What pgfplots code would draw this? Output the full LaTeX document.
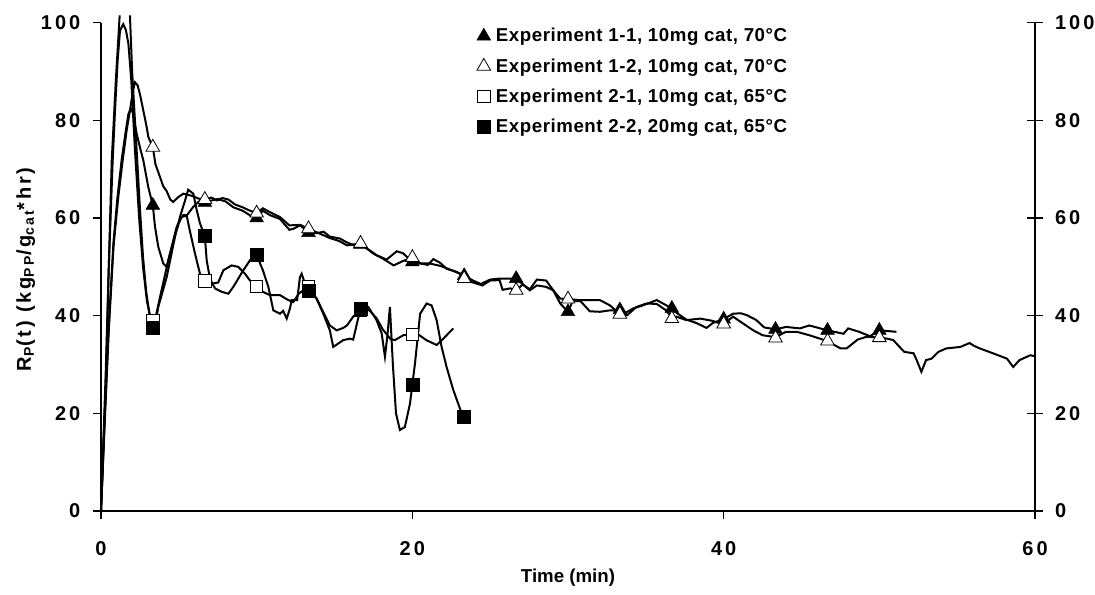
\documentclass[border=0pt]{standalone}
\usepackage{fontspec}
\setmainfont{Liberation Sans}
\usepackage{pgfplots}
\pgfplotsset{compat=1.18}
\begin{document}
\begin{tikzpicture}
\useasboundingbox (-75.75pt,-62.25pt) rectangle (745.5pt,383.25pt);
\pgfplotsset{
  common/.style={at={(0pt,0pt)}, anchor=south west, scale only axis,
    width=700.5pt, height=366.2pt, xmin=0, xmax=60, ymin=0, ymax=100,
    /pgf/number format/assume math mode=true,
    tick label style={font=\fontsize{15}{17}\selectfont\bfseries\addfontfeature{LetterSpace=15}},
    ytick={0,20,40,60,80,100}, minor tick num=0,
    axis line style={line width=1.1pt}, major tick style={line width=1.1pt, black},
  }
}
\begin{axis}[common,
  axis x line*=bottom, axis y line*=left, tick align=outside,
  major tick length=6pt, xtick={0,20,40,60},
  xticklabel style={yshift=-13pt},
  yticklabel style={xshift=-6pt},
  clip=false, unbounded coords=jump,
  xlabel={\bfseries Time (min)},
  ylabel={\fontsize{15}{17}\selectfont\bfseries\addfontfeature{LetterSpace=14}R\textsubscript{P}(t) (kg\textsubscript{PP}/g\textsubscript{cat}*hr)},
  label style={font=\fontsize{14}{16}\selectfont\bfseries},
  xlabel style={at={(axis description cs:0.5,-0.1372)}, anchor=center},
  ylabel style={at={(axis description cs:-0.0805,0.495)}, anchor=center},
  legend style={at={(rel axis cs:0.398,1.0)}, anchor=north west, draw=none, fill=none,
    font=\fontsize{14}{16}\selectfont\bfseries\addfontfeature{LetterSpace=3}, row sep=7pt, column sep=2pt},
  legend cell align=left,
]
% lines
\addplot[black, line width=1.5pt, mark=none, forget plot] coordinates {
(0,0) (0.25,20) (0.5,38) (0.8,55) (1.05,64) (1.33,72) (1.6,78) (1.76,81.3) (1.91,82.4) (2.05,81.5) (2.29,77.3) (2.5,74.5) (2.72,71.8) (3.04,66.3) (3.33,62.6) (3.47,58.2) (3.68,54.1) (4.0,50.7) (4.22,50) (4.54,54.1) (4.86,58.2) (5.18,60.2) (5.5,60.5) (5.93,62.3) (6.36,63.6) (6.67,63.2) (7.1,63.6) (7.5,63.9) (8.0,63.4) (8.5,62.2) (9.1,61.5) (9.6,60.5) (10,60) (10.4,61.5) (10.85,60.6) (11.5,59.8) (12.1,57.6) (12.35,57.8) (12.8,58.5) (13.33,57) (13.85,56.9) (14.3,57.2) (14.7,56.2) (15.35,55.8) (15.8,55) (16.2,54.5) (16.67,54.6) (17.3,53.3) (17.7,52.4) (18.35,51.5) (19.0,53.2) (19.4,52.8) (20.0,51) (20.5,50.7) (21.0,50.4) (21.35,51.6) (21.8,50.8) (22.2,49.6) (22.84,49.0) (23.33,48.2) (23.9,47.2) (24.4,46.5) (25.0,47.4) (25.6,47.6) (26.3,47.6) (26.67,47.6) (27.1,46.4) (27.55,45.4) (28.0,47.4) (28.6,47.2) (29.05,45.2) (29.5,42.5) (30.0,40.8) (30.3,43.0) (30.8,43.0) (31.4,40.9) (32.05,40.8) (32.7,41.1) (33.33,41.0) (33.65,40.5) (34.2,41.5) (34.8,42.1) (35.7,43.2) (36.1,42.5) (36.67,41.5) (36.97,40.6) (37.6,39.2) (38.25,38.5) (38.9,37.5) (39.3,38.5) (40.0,39.3) (40.6,40.4) (41.1,40.5) (41.5,40.1) (42.1,39.1) (42.6,37.6) (43.33,37.2) (44.0,37.7) (44.9,37.4) (45.5,38.0) (46.67,37.0) (47.7,36.3) (48.0,37.4) (48.7,36.7) (49.4,35.8) (50.0,37.0) (51.1,36.7)
};
\addplot[black, line width=1.5pt, mark=none, forget plot] coordinates {
(0,0) (0.25,19) (0.5,37) (0.8,54) (1.1,64) (1.4,72) (1.65,78) (1.86,82) (2.05,86) (2.18,87.8) (2.35,87.2) (2.5,85.4) (2.72,82) (2.93,78.7) (3.04,76.6) (3.33,74.5) (3.5,71) (3.79,68.4) (4.0,66.5) (4.22,65.5) (4.45,63.8) (4.64,63.3) (4.97,64.3) (5.29,65) (5.9,64.5) (6.25,64) (6.67,63.8) (7.1,64.2) (7.45,63.6) (7.8,64.1) (8.18,63.8) (8.6,62.8) (9.1,62.2) (9.5,61.6) (10.0,61) (10.4,62) (10.85,61.2) (11.5,60.2) (12.1,58.5) (12.8,58.6) (13.33,57.8) (13.85,57.1) (14.7,55.9) (15.3,55.3) (15.8,54.4) (16.67,54.8) (17.5,52.7) (18.1,51.7) (18.8,50.3) (19.4,51.2) (20.0,51.9) (20.5,50.7) (21.1,50.7) (21.8,50.2) (22.3,49.6) (23.06,48.6) (23.33,47.6) (23.9,46.8) (24.5,46.2) (25.0,47.2) (25.6,47.3) (25.8,45.3) (26.3,45.6) (26.67,45.2) (27.1,46.4) (27.55,45.2) (28.0,46.2) (28.6,45.9) (29.05,45.2) (29.5,43.5) (30.0,43.4) (30.7,43.2) (31.4,43.2) (32.05,43.2) (32.7,42.1) (33.33,40.3) (33.8,40.1) (34.4,41.8) (35.05,42.5) (35.7,42.4) (36.3,41.1) (36.67,39.6) (36.97,39.8) (37.6,39.1) (38.5,39.4) (39.2,39.0) (40.0,38.3) (40.6,39.8) (41.25,38.4) (41.9,37.0) (42.5,36.0) (43.33,35.6) (44.0,36.7) (44.7,36.7) (45.5,36.0) (46.67,34.8) (47.5,33.3) (47.9,33.3) (48.6,35.1) (49.2,35.7) (50.0,35.5) (50.5,35.3) (50.9,35.0) (51.3,33.6) (51.6,32.6) (52.2,32.3) (52.4,30.9) (52.7,28.5) (53.0,30.9) (53.35,31.2) (53.8,32.6) (54.3,33.3) (55.2,33.6) (55.8,34.4) (56.1,33.8) (56.45,33.3) (57.3,32.3) (58.2,31.2) (58.6,29.5) (59.0,30.9) (59.7,31.9) (60.0,31.7)
};
\addplot[black, line width=1.5pt, mark=none, forget plot] coordinates {
(0,0) (0.3,25) (0.5,50) (0.75,71.8) (0.9,82) (1.07,92.3) (1.22,98.4) (1.43,99.7) (1.6,98.5) (1.76,95.7) (1.95,88) (2.18,74) (2.45,60) (2.7,50) (2.95,43) (3.15,40) (3.33,39.0) (3.5,39.5) (3.79,43.8) (4.32,51.3) (4.8,57) (5.1,59.8) (5.29,60.6) (5.5,60.6) (5.7,57.5) (6.04,52.7) (6.36,48.6) (6.67,47.1) (7.0,46.7) (7.2,46.6) (7.53,46.8) (7.86,49.3) (8.39,50.3) (8.82,50) (9.25,48.6) (9.57,47.2) (10.0,46.0) (10.4,44.9) (10.85,44.2) (11.5,44.2) (12.03,43.2) (12.35,42.8) (12.7,44.5) (13.33,46.0) (13.85,43.5) (14.3,40.6) (14.7,38.0) (15.14,37.0) (15.56,37.5) (15.8,38.0) (16.2,39.8) (16.67,41.2) (17.2,41.2) (17.7,39.5) (18.1,37.2) (18.6,35.2) (18.88,35.0) (19.42,36.0) (20.0,36.2) (20.27,36.4) (20.9,35.0) (21.56,34.0) (21.99,35.3) (22.63,37.4)
};
\addplot[black, line width=1.5pt, mark=none, forget plot] coordinates {
(0,0) (0.3,28) (0.5,50) (0.69,71.8) (0.95,88) (1.2,101.5) (1.5,nan) (1.86,101.5) (2.0,90) (2.29,73.9) (2.5,62) (2.7,52) (2.9,45) (3.15,39.5) (3.33,37.5) (3.5,38.5) (3.68,41.8) (4.22,47.9) (4.75,56.1) (5.07,60.2) (5.4,63.6) (5.6,65.8) (5.93,65.0) (6.15,61.6) (6.36,58.9) (6.67,56.3) (6.79,51.3) (7.0,47.6) (7.32,45.6) (7.75,44.9) (8.18,44.5) (8.5,45.9) (9.14,49.3) (9.6,51.5) (10.0,52.4) (10.4,49.3) (10.75,45.9) (11.07,41.1) (11.5,40.4) (11.7,41.0) (11.93,39.4) (12.14,41.5) (12.25,43.2) (12.6,43.2) (12.78,47.9) (12.89,48.6) (13.1,46.6) (13.33,45.2) (13.85,43.5) (14.28,40.4) (14.7,37.0) (14.92,33.6) (15.56,35.0) (15.99,35.3) (16.2,35.1) (16.67,41.5) (17.17,41.8) (17.7,39.1) (18.03,36.4) (18.24,31.6) (18.4,36) (18.56,41.8) (18.75,30) (18.95,20) (19.2,16.6) (19.52,17.2) (19.85,22.0) (20.0,25.9) (20.17,30.2) (20.5,40.4) (20.92,42.5) (21.24,42.1) (21.56,39.1) (21.88,33.6) (22.2,29.5) (22.63,24.8) (23.17,20) (23.33,19.3)
};
% markers
\addplot[only marks, mark=triangle*, mark size=5.9pt, mark options={fill=black, draw=black}] coordinates {
(3.33,62.6) (6.67,63.2) (10,60) (13.33,57) (16.67,54.6) (20,51) (23.33,48.2) (26.67,47.6) (30,40.8) (33.33,41.2) (36.67,41.5) (40,39.3) (43.33,37.2) (46.67,37.0) (50,37.0)
};
\addlegendentry{Experiment 1-1, 10mg cat, 70°C}
\addplot[only marks, mark=triangle*, mark size=5.9pt, mark options={fill=white, draw=black, line width=0.6pt}] coordinates {
(3.33,74.5) (6.67,63.8) (10,61) (13.33,57.8) (16.67,54.8) (20,51.9) (23.33,47.6) (26.67,45.2) (30,43.4) (33.33,40.3) (36.67,39.4) (40,38.3) (43.33,35.4) (46.67,34.8) (50,35.5)
};
\addlegendentry{Experiment 1-2, 10mg cat, 70°C}
\addplot[only marks, mark=square*, mark size=4.6pt, mark options={fill=white, draw=black, line width=0.6pt}] coordinates {
(3.33,39.0) (6.67,47.1) (10,46.0) (13.33,46.0) (16.67,41.2) (20,36.2)
};
\addlegendentry{Experiment 2-1, 10mg cat, 65°C}
\addplot[only marks, mark=square*, mark size=4.9pt, mark options={fill=black, draw=black}] coordinates {
(3.33,37.5) (6.67,56.3) (10,52.4) (13.33,45.2) (16.67,41.5) (20,25.9) (23.33,19.3)
};
\addlegendentry{Experiment 2-2, 20mg cat, 65°C}
\end{axis}
\begin{axis}[common,
  axis y line*=right, axis x line=none, tick align=center, major tick length=12pt,
  yticklabel style={xshift=5.5pt},
]
\addplot[draw=none, mark=none, forget plot] coordinates {(0,0)};
\end{axis}
\end{tikzpicture}
\end{document}
